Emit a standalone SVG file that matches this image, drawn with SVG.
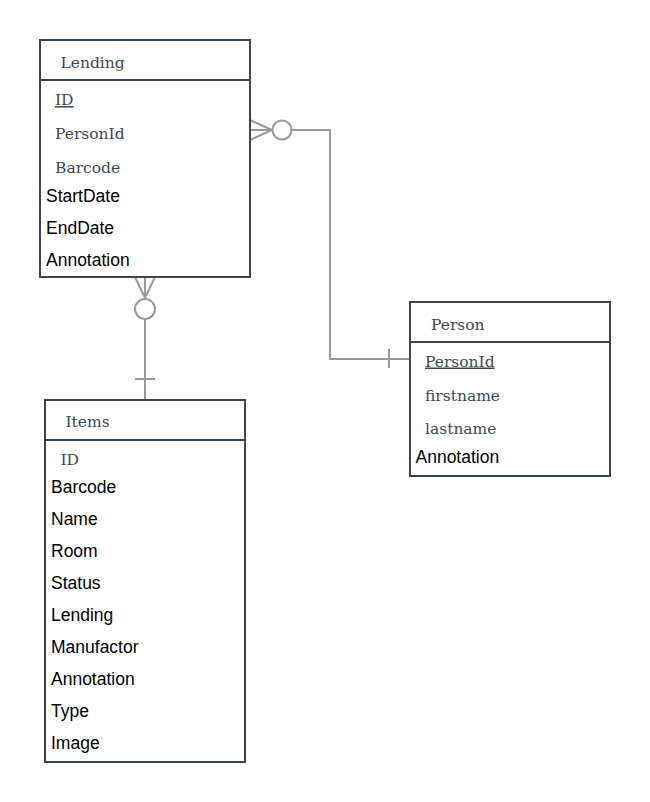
<svg xmlns="http://www.w3.org/2000/svg" width="650" height="802" viewBox="0 0 650 802">
<style>
.box{fill:#ffffff;stroke:#3a4550;stroke-width:2}
.div{stroke:#3a4550;stroke-width:2}
.ser{font-family:"DejaVu Serif","Liberation Serif",serif;font-size:15.5px;fill:#3d4853}
.san{font-family:"Liberation Sans",Arial,sans-serif;font-size:17.5px;fill:#000000}
.u{text-decoration:underline}
.con{fill:none;stroke:#999999;stroke-width:2}
</style>
<rect width="650" height="802" fill="#ffffff"/>
<g id="connectors">
  <path class="con" d="M250,120 L272,130 M250,130 L272,130 M250,140 L272,130"/>
  <circle class="con" cx="282" cy="130" r="9.5"/>
  <path class="con" d="M291.5,130 H330 V359 H410"/>
  <path class="con" d="M389,349 V368"/>
  <path class="con" d="M135,277 L145,298 M145,277 L145,298 M155,277 L145,298"/>
  <circle class="con" cx="145" cy="309" r="10"/>
  <path class="con" d="M145,319 V400"/>
  <path class="con" d="M135,379 H155"/>
</g>
<g id="lending">
  <rect class="box" x="40" y="40" width="210" height="237"/>
  <line class="div" x1="40" y1="80" x2="250" y2="80"/>
  <text class="ser" x="60.5" y="68">Lending</text>
  <text class="ser u" x="55" y="105">ID</text>
  <text class="ser" x="55" y="139">PersonId</text>
  <text class="ser" x="55" y="173">Barcode</text>
  <text class="san" x="46" y="201.5">StartDate</text>
  <text class="san" x="46" y="233.5">EndDate</text>
  <text class="san" x="46" y="265.5">Annotation</text>
</g>
<g id="person">
  <rect class="box" x="410" y="302" width="200" height="174"/>
  <line class="div" x1="410" y1="342" x2="610" y2="342"/>
  <text class="ser" x="431" y="329.5">Person</text>
  <text class="ser u" x="425" y="366.5">PersonId</text>
  <text class="ser" x="425" y="400.5">firstname</text>
  <text class="ser" x="425" y="434">lastname</text>
  <text class="san" x="415.5" y="463">Annotation</text>
</g>
<g id="items">
  <rect class="box" x="45" y="400" width="200" height="362"/>
  <line class="div" x1="45" y1="440" x2="245" y2="440"/>
  <text class="ser" x="65.5" y="427">Items</text>
  <text class="ser" x="60.5" y="465">ID</text>
  <text class="san" x="51" y="493">Barcode</text>
  <text class="san" x="51" y="525">Name</text>
  <text class="san" x="51" y="557">Room</text>
  <text class="san" x="51" y="589">Status</text>
  <text class="san" x="51" y="621">Lending</text>
  <text class="san" x="51" y="653">Manufactor</text>
  <text class="san" x="51" y="685">Annotation</text>
  <text class="san" x="51" y="717">Type</text>
  <text class="san" x="51" y="749">Image</text>
</g>
</svg>
